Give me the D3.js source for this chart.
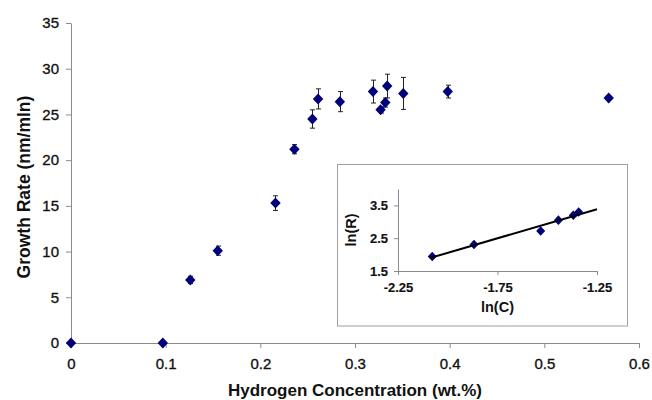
<!DOCTYPE html>
<html>
<head>
<meta charset="utf-8">
<script src="https://cdn.jsdelivr.net/npm/d3@7"></script>
<style>
  body { margin: 0; background: #fff; }
  svg { display: block; font-family: "Liberation Sans", Arial, sans-serif; }
  .axis path, .axis line { stroke: #8c8c8c; }
  .axis text { fill: #111; stroke: #111; stroke-width: 0.35px; }
</style>
</head>
<body>
<div id="chart"></div>
<script>
// main plot: growth rate vs hydrogen concentration
var conc = [0, 0.097, 0.126, 0.155, 0.216, 0.236, 0.255, 0.261, 0.284, 0.319, 0.327, 0.332, 0.334, 0.351, 0.398, 0.568]
var rate = [0, 0, 6.9, 10.1, 15.3, 21.2, 24.5, 26.7, 26.4, 27.5, 25.5, 26.3, 28.1, 27.3, 27.5, 26.8]
var rateErr = [0, 0, 0.4, 0.5, 0.8, 0.5, 1.0, 1.1, 1.1, 1.25, 0.35, 0.5, 1.3, 1.75, 0.7, 0]

var xTicks = [0, 0.1, 0.2, 0.3, 0.4, 0.5, 0.6]
var yTicks = [0, 5, 10, 15, 20, 25, 30, 35]

// inset: ln(R) vs ln(C)
var lnC = [-2.078, -1.868, -1.533, -1.444, -1.369, -1.342]
var lnR = [1.94, 2.31, 2.72, 3.05, 3.20, 3.30]
var fitRange = [-2.09, -1.25]
var insetXTicks = [-2.25, -1.75, -1.25]
var insetYTicks = [1.5, 2.5, 3.5]

var W = 652, H = 400
var svg = d3.select('#chart').append('svg').attr('width', W).attr('height', H)

var x = d3.scaleLinear().domain([0, 0.6]).range([71, 639])
var y = d3.scaleLinear().domain([0, 35]).range([343, 23])

var markerColor = '#00007a'

function diamond(hw, hh){
  return 'M0,' + (-hh) + 'L' + hw + ',0L0,' + hh + 'L' + (-hw) + ',0Z'
}

// axes
svg.append('g').attr('class', 'axis')
  .attr('transform', 'translate(0,' + y(0) + ')')
  .call(d3.axisBottom(x).tickValues(xTicks).tickFormat(d3.format('')).tickSize(5).tickSizeOuter(0).tickPadding(10))
  .selectAll('text').style('font-size', '15px')

svg.append('g').attr('class', 'axis')
  .attr('transform', 'translate(' + x(0) + ',0)')
  .call(d3.axisLeft(y).tickValues(yTicks).tickSize(5).tickSizeOuter(0).tickPadding(7))
  .selectAll('text').style('font-size', '15px')

svg.append('text')
  .attr('x', (x(0) + x(0.6)) / 2).attr('y', 396)
  .attr('text-anchor', 'middle')
  .style('font-size', '17px').style('font-weight', 'bold').attr('fill', '#111')
  .text('Hydrogen Concentration (wt.%)')

svg.append('text')
  .attr('transform', 'translate(30,' + ((y(0) + y(35)) / 2 + 4) + ') rotate(-90)')
  .attr('text-anchor', 'middle')
  .style('font-size', '17.5px').style('font-weight', 'bold').attr('fill', '#111')
  .text('Growth Rate (nm/mln)')

// error bars
var pts = conc.map(function(c, i){ return {c: c, r: rate[i], e: rateErr[i]} })
var eb = svg.append('g').attr('stroke', '#222').attr('stroke-width', 1)
pts.filter(function(d){ return d.e > 0 }).forEach(function(d){
  var cx = Math.round(x(d.c)) + 0.5
  eb.append('line').attr('x1', cx).attr('x2', cx).attr('y1', y(d.r + d.e)).attr('y2', y(d.r - d.e))
  eb.append('line').attr('x1', cx - 2.5).attr('x2', cx + 2.5).attr('y1', y(d.r + d.e)).attr('y2', y(d.r + d.e))
  eb.append('line').attr('x1', cx - 2.5).attr('x2', cx + 2.5).attr('y1', y(d.r - d.e)).attr('y2', y(d.r - d.e))
})

svg.append('g').selectAll('path').data(pts).join('path')
  .attr('d', diamond(5.2, 5.5))
  .attr('transform', function(d){ return 'translate(' + x(d.c) + ',' + y(d.r) + ')' })
  .attr('fill', markerColor)

// inset
var inset = svg.append('g')
inset.append('rect').attr('x', 337.5).attr('y', 164.5).attr('width', 290).attr('height', 161.5)
  .attr('fill', '#fff').attr('stroke', '#a0a0a0').attr('stroke-width', 1)

var ix = d3.scaleLinear().domain([-2.25, -1.25]).range([398, 597])
var iy = d3.scaleLinear().domain([1.5, 4]).range([271, 189])

inset.append('g').attr('class', 'axis')
  .attr('transform', 'translate(0,' + iy(1.5) + ')')
  .call(d3.axisBottom(ix).tickValues(insetXTicks).tickFormat(d3.format('.2f')).tickSize(4).tickSizeOuter(0).tickPadding(8))
  .selectAll('text').style('font-size', '13px').style('font-weight', 'bold')

inset.append('g').attr('class', 'axis')
  .attr('transform', 'translate(' + ix(-2.25) + ',0)')
  .call(d3.axisLeft(iy).tickValues(insetYTicks).tickFormat(d3.format('.1f')).tickSize(4).tickSizeOuter(0).tickPadding(6))
  .selectAll('text').style('font-size', '13px').style('font-weight', 'bold')

inset.selectAll('.axis text').style('stroke-width', '0.15px')
  .text(function(){ return this.textContent.replace('\u2212', '-') })

inset.append('text')
  .attr('x', (ix(-2.25) + ix(-1.25)) / 2).attr('y', 312)
  .attr('text-anchor', 'middle')
  .style('font-size', '14.5px').style('font-weight', 'bold').attr('fill', '#111')
  .text('ln(C)')

inset.append('text')
  .attr('transform', 'translate(356,' + (iy(1.5) + iy(4)) / 2 + ') rotate(-90)')
  .attr('text-anchor', 'middle')
  .style('font-size', '14.5px').style('font-weight', 'bold').attr('fill', '#111')
  .text('ln(R)')

var ipts = lnC.map(function(c, i){ return {c: c, r: lnR[i]} })

// least squares trend line
var mx = d3.mean(lnC), my = d3.mean(lnR)
var sxy = d3.sum(ipts, function(d){ return (d.c - mx) * (d.r - my) })
var sxx = d3.sum(ipts, function(d){ return (d.c - mx) * (d.c - mx) })
var slope = sxy / sxx, icpt = my - slope * mx

inset.selectAll('path.pt').data(ipts).join('path').attr('class', 'pt')
  .attr('d', diamond(4.5, 4.8))
  .attr('transform', function(d){ return 'translate(' + ix(d.c) + ',' + iy(d.r) + ')' })
  .attr('fill', markerColor)

inset.append('line')
  .attr('x1', ix(fitRange[0])).attr('y1', iy(slope * fitRange[0] + icpt))
  .attr('x2', ix(fitRange[1])).attr('y2', iy(slope * fitRange[1] + icpt))
  .attr('stroke', '#000').attr('stroke-width', 2)
</script>
</body>
</html>
